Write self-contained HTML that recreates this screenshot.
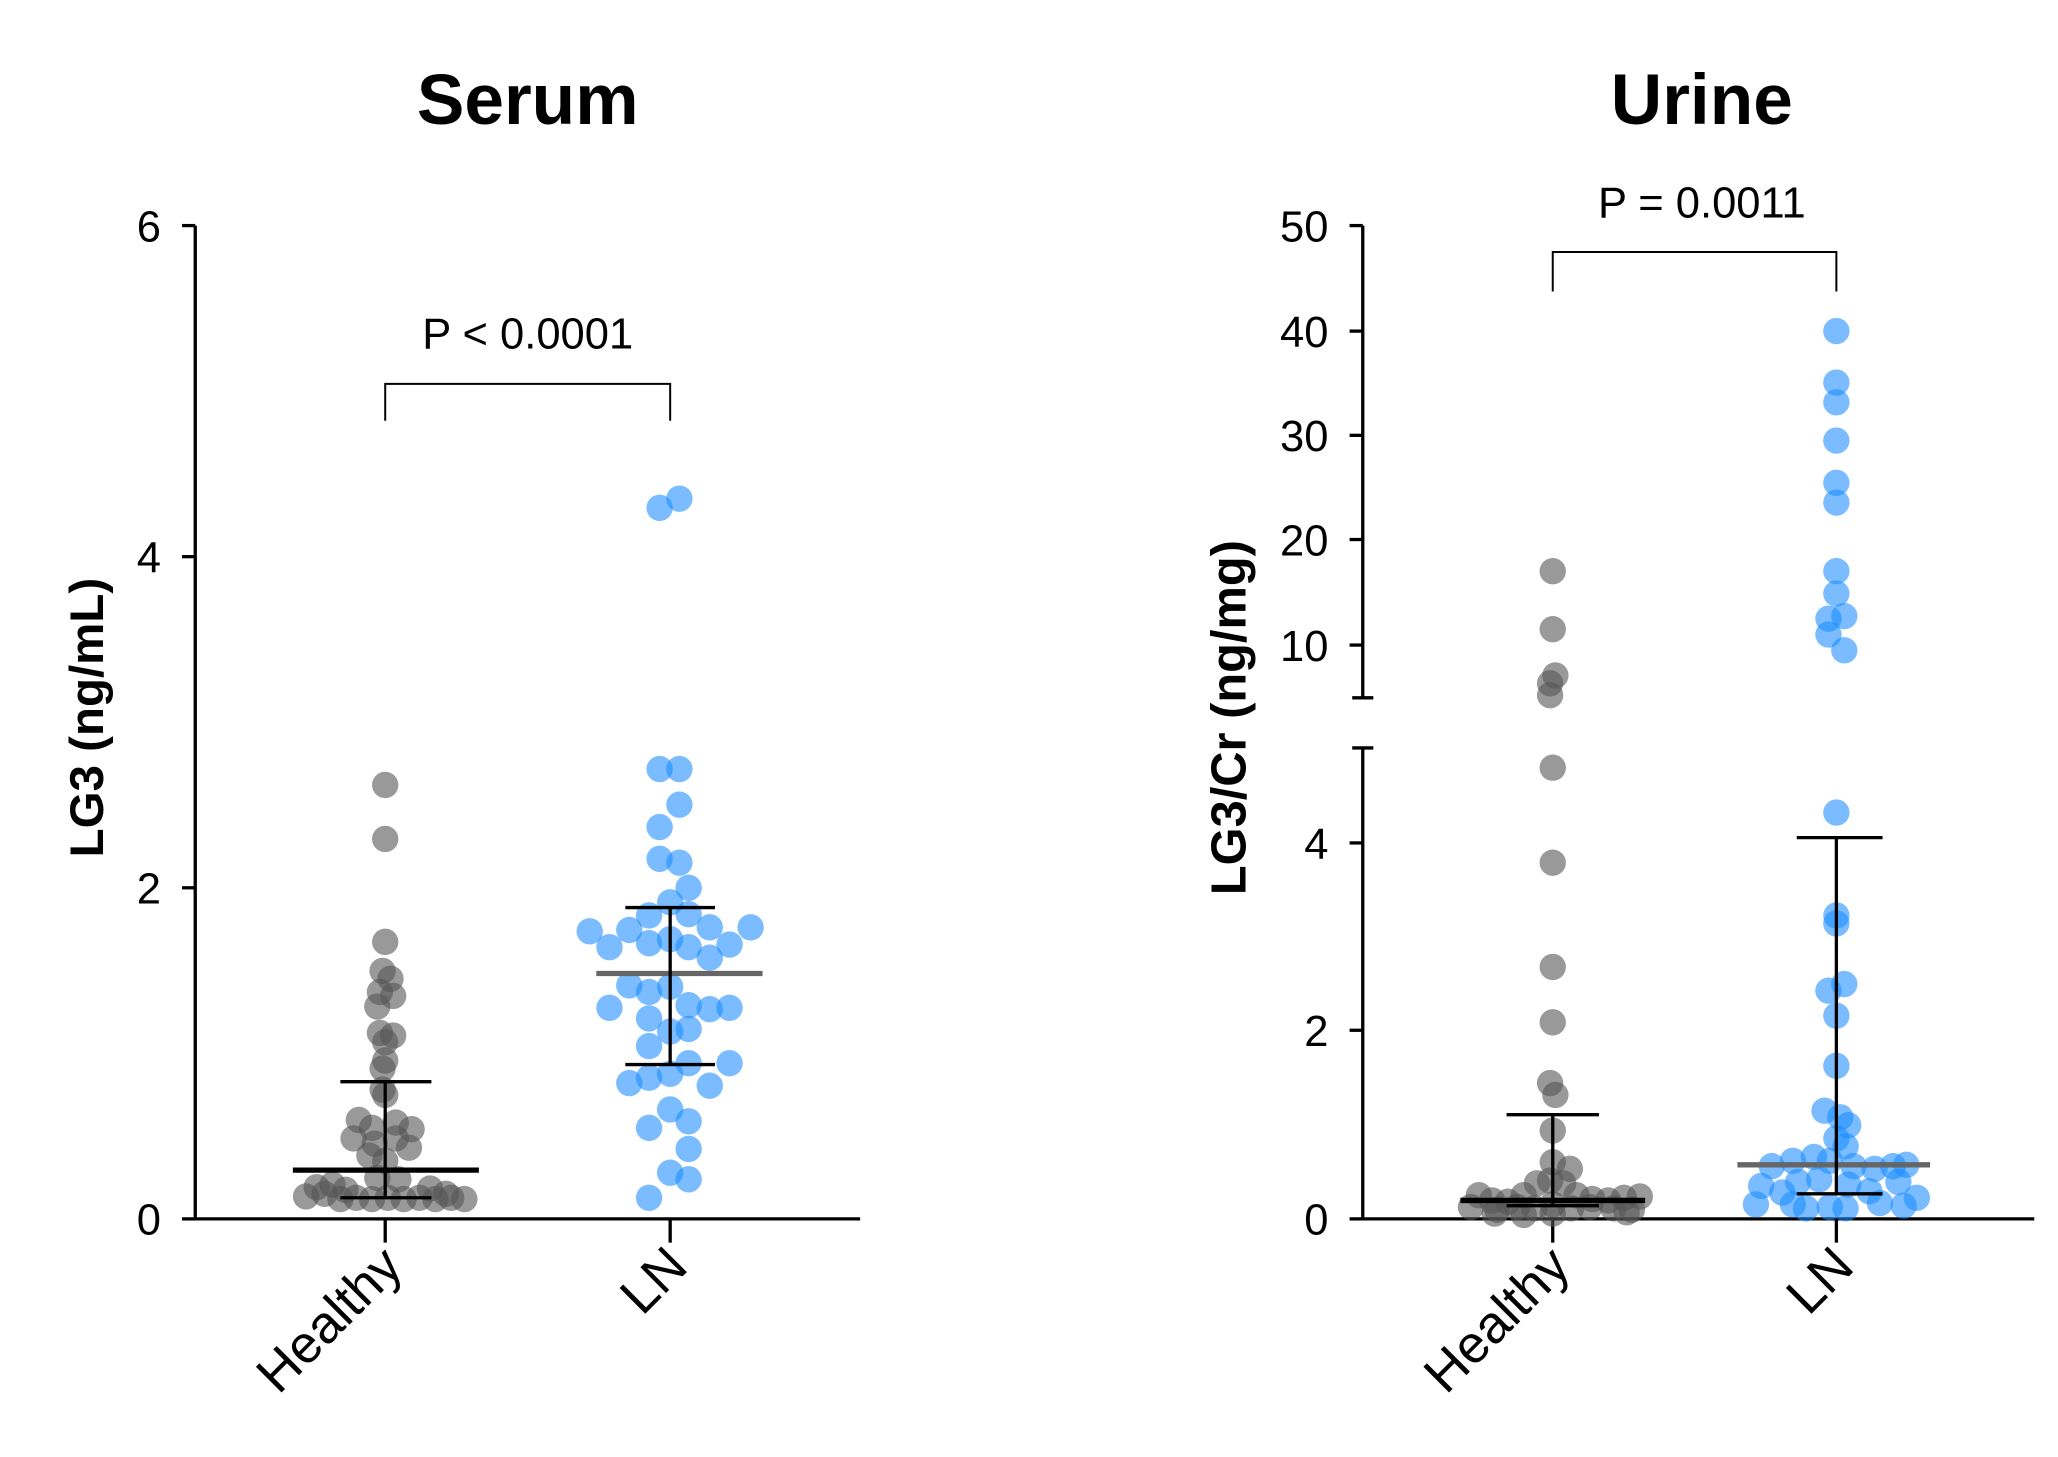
<!DOCTYPE html>
<html><head><meta charset="utf-8"><style>
html,body{margin:0;padding:0;background:#fff;}
svg{display:block;}
text{font-family:"Liberation Sans",sans-serif;fill:#000;}
.g circle{fill:#555;fill-opacity:0.6;}
.b circle{fill:#1a8cff;fill-opacity:0.58;}
</style></head><body>
<svg width="2058" height="1457" viewBox="0 0 1560 1104.5" preserveAspectRatio="none" xmlns="http://www.w3.org/2000/svg">
<text x="400" y="94" font-size="54" font-weight="bold" text-anchor="middle">Serum</text>

<g stroke="#000" stroke-width="2.5" fill="none">
<line x1="148" y1="171" x2="148" y2="925"/>
<line x1="147" y1="924" x2="652" y2="924"/>
<line x1="138" y1="171" x2="148" y2="171"/>
<line x1="138" y1="422" x2="148" y2="422"/>
<line x1="138" y1="673" x2="148" y2="673"/>
<line x1="138" y1="924" x2="148" y2="924"/>
<line x1="292" y1="924" x2="292" y2="942"/>
<line x1="508" y1="924" x2="508" y2="942"/>
</g>
<g font-size="33" text-anchor="end">
<text x="122" y="183">6</text><text x="122" y="434">4</text><text x="122" y="685">2</text><text x="122" y="936">0</text>
</g>
<text transform="translate(78,544) rotate(-90)" font-size="36" font-weight="bold" text-anchor="middle">LG3 (ng/mL)</text>
<text transform="translate(307,962) rotate(-45)" font-size="40" text-anchor="end">Healthy</text>
<text transform="translate(523,962) rotate(-45)" font-size="40" text-anchor="end">LN</text>
<text x="400" y="264" font-size="33" text-anchor="middle">P &lt; 0.0001</text>
<path d="M292 319 V291 H508 V319" stroke="#000" stroke-width="1.5" fill="none"/>

<g class="g">
<circle cx="292" cy="595" r="10"/><circle cx="292" cy="636" r="10"/><circle cx="292" cy="714" r="10"/>
<circle cx="290" cy="736" r="10"/><circle cx="296" cy="742" r="10"/><circle cx="288" cy="752" r="10"/><circle cx="298" cy="755" r="10"/>
<circle cx="286" cy="763" r="10"/><circle cx="288" cy="783" r="10"/><circle cx="298" cy="785" r="10"/><circle cx="292" cy="790" r="10"/>
<circle cx="292" cy="804" r="10"/><circle cx="290" cy="810" r="10"/><circle cx="290" cy="826" r="10"/><circle cx="292" cy="830" r="10"/>
<circle cx="272" cy="849" r="10"/><circle cx="300" cy="851" r="10"/><circle cx="282" cy="855" r="10"/><circle cx="312" cy="856" r="10"/>
<circle cx="268" cy="863" r="10"/><circle cx="284" cy="867" r="10"/><circle cx="300" cy="863" r="10"/><circle cx="310" cy="870" r="10"/>
<circle cx="280" cy="876" r="10"/><circle cx="292" cy="880" r="10"/><circle cx="286" cy="893" r="10"/><circle cx="302" cy="894" r="10"/>
<circle cx="232" cy="907" r="10"/><circle cx="246" cy="905" r="10"/><circle cx="258" cy="909" r="10"/><circle cx="270" cy="908" r="10"/>
<circle cx="282" cy="909" r="10"/><circle cx="294" cy="908" r="10"/><circle cx="306" cy="909" r="10"/><circle cx="318" cy="908" r="10"/>
<circle cx="330" cy="909" r="10"/><circle cx="342" cy="908" r="10"/><circle cx="352" cy="909" r="10"/><circle cx="240" cy="900" r="10"/>
<circle cx="262" cy="902" r="10"/><circle cx="326" cy="901" r="10"/><circle cx="338" cy="905" r="10"/><circle cx="252" cy="898" r="10"/>
</g>
<g stroke="#000" fill="none">
<line x1="222" y1="887" x2="363" y2="887" stroke-width="4"/>
<line x1="292" y1="820" x2="292" y2="908" stroke-width="2.5"/>
<line x1="258" y1="820" x2="327" y2="820" stroke-width="2.5"/>
<line x1="258" y1="908" x2="327" y2="908" stroke-width="2.5"/>
</g>

<g class="b">
<circle cx="500" cy="385" r="10"/><circle cx="515" cy="378" r="10"/>
<circle cx="500" cy="583" r="10"/><circle cx="515" cy="583" r="10"/><circle cx="515" cy="610" r="10"/><circle cx="500" cy="627" r="10"/>
<circle cx="500" cy="651" r="10"/><circle cx="515" cy="654" r="10"/><circle cx="522" cy="673" r="10"/><circle cx="508" cy="684" r="10"/>
<circle cx="447" cy="706" r="10"/><circle cx="477" cy="705" r="10"/><circle cx="492" cy="694" r="10"/><circle cx="522" cy="693" r="10"/>
<circle cx="538" cy="703" r="10"/><circle cx="569" cy="703" r="10"/><circle cx="462" cy="718" r="10"/><circle cx="492" cy="715" r="10"/>
<circle cx="508" cy="712" r="10"/><circle cx="553" cy="716" r="10"/><circle cx="522" cy="718" r="10"/><circle cx="538" cy="726" r="10"/>
<circle cx="477" cy="747" r="10"/><circle cx="492" cy="752" r="10"/><circle cx="508" cy="748" r="10"/><circle cx="462" cy="764" r="10"/>
<circle cx="522" cy="762" r="10"/><circle cx="538" cy="765" r="10"/><circle cx="553" cy="764" r="10"/><circle cx="492" cy="772" r="10"/>
<circle cx="508" cy="782" r="10"/><circle cx="522" cy="780" r="10"/><circle cx="492" cy="793" r="10"/><circle cx="522" cy="806" r="10"/>
<circle cx="553" cy="806" r="10"/><circle cx="477" cy="821" r="10"/><circle cx="492" cy="817" r="10"/><circle cx="508" cy="814" r="10"/>
<circle cx="538" cy="823" r="10"/><circle cx="508" cy="841" r="10"/><circle cx="522" cy="850" r="10"/><circle cx="492" cy="855" r="10"/>
<circle cx="522" cy="871" r="10"/><circle cx="508" cy="889" r="10"/><circle cx="522" cy="894" r="10"/><circle cx="492" cy="908" r="10"/>
</g>
<g stroke="#000" fill="none">
<line x1="452" y1="738" x2="578" y2="738" stroke="#666" stroke-width="4"/>
<line x1="508" y1="688" x2="508" y2="807" stroke-width="2.5"/>
<line x1="474" y1="688" x2="542" y2="688" stroke-width="2.5"/>
<line x1="474" y1="807" x2="542" y2="807" stroke-width="2.5"/>
</g>

<g transform="translate(-5,0)">
<text x="1295" y="94" font-size="54" font-weight="bold" text-anchor="middle">Urine</text>
<g stroke="#000" stroke-width="2.5" fill="none">
<line x1="1038" y1="171" x2="1038" y2="529"/>
<line x1="1038" y1="567" x2="1038" y2="925"/>
<line x1="1037" y1="924" x2="1547" y2="924"/>
<line x1="1028" y1="171" x2="1038" y2="171"/>
<line x1="1028" y1="251" x2="1038" y2="251"/>
<line x1="1028" y1="330" x2="1038" y2="330"/>
<line x1="1028" y1="409" x2="1038" y2="409"/>
<line x1="1028" y1="489" x2="1038" y2="489"/>
<line x1="1030" y1="529" x2="1046" y2="529"/>
<line x1="1030" y1="567" x2="1046" y2="567"/>
<line x1="1028" y1="639" x2="1038" y2="639"/>
<line x1="1028" y1="781" x2="1038" y2="781"/>
<line x1="1028" y1="924" x2="1038" y2="924"/>
<line x1="1182" y1="924" x2="1182" y2="942"/>
<line x1="1397" y1="924" x2="1397" y2="942"/>
</g>
<g font-size="33" text-anchor="end">
<text x="1012" y="183">50</text><text x="1012" y="263">40</text><text x="1012" y="342">30</text><text x="1012" y="421">20</text><text x="1012" y="501">10</text>
<text x="1012" y="651">4</text><text x="1012" y="793">2</text><text x="1012" y="936">0</text>
</g>
<text transform="translate(949,544) rotate(-90)" font-size="37" font-weight="bold" text-anchor="middle">LG3/Cr (ng/mg)</text>
<text transform="translate(1197,962) rotate(-45)" font-size="40" text-anchor="end">Healthy</text>
<text transform="translate(1412,962) rotate(-45)" font-size="40" text-anchor="end">LN</text>
<text x="1295" y="165" font-size="33" text-anchor="middle">P = 0.0011</text>
<path d="M1182 221 V191 H1397 V221" stroke="#000" stroke-width="1.5" fill="none"/>

<g class="g">
<circle cx="1182" cy="433" r="10"/><circle cx="1182" cy="477" r="10"/><circle cx="1184" cy="512" r="10"/><circle cx="1180" cy="518" r="10"/><circle cx="1180" cy="527" r="10"/>
<circle cx="1182" cy="582" r="10"/><circle cx="1182" cy="654" r="10"/><circle cx="1182" cy="733" r="10"/><circle cx="1182" cy="775" r="10"/>
<circle cx="1180" cy="821" r="10"/><circle cx="1184" cy="830" r="10"/><circle cx="1182" cy="857" r="10"/>
<circle cx="1182" cy="881" r="10"/><circle cx="1195" cy="886" r="10"/><circle cx="1170" cy="897" r="10"/><circle cx="1180" cy="895" r="10"/><circle cx="1190" cy="897" r="10"/>
<circle cx="1126" cy="906" r="10"/><circle cx="1136" cy="910" r="10"/><circle cx="1148" cy="911" r="10"/><circle cx="1160" cy="906" r="10"/>
<circle cx="1200" cy="906" r="10"/><circle cx="1212" cy="909" r="10"/><circle cx="1224" cy="910" r="10"/><circle cx="1236" cy="908" r="10"/><circle cx="1248" cy="907" r="10"/>
<circle cx="1120" cy="915" r="10"/><circle cx="1140" cy="917" r="10"/><circle cx="1155" cy="915" r="10"/><circle cx="1168" cy="916" r="10"/><circle cx="1182" cy="913" r="10"/>
<circle cx="1196" cy="916" r="10"/><circle cx="1210" cy="915" r="10"/><circle cx="1228" cy="916" r="10"/><circle cx="1242" cy="917" r="10"/>
<circle cx="1138" cy="920" r="10"/><circle cx="1160" cy="921" r="10"/><circle cx="1182" cy="920" r="10"/><circle cx="1238" cy="919" r="10"/>
</g>
<g stroke="#000" fill="none">
<line x1="1112" y1="910" x2="1252" y2="910" stroke-width="4"/>
<line x1="1182" y1="845" x2="1182" y2="914" stroke-width="2.5"/>
<line x1="1147" y1="845" x2="1217" y2="845" stroke-width="2.5"/>
<line x1="1147" y1="914" x2="1217" y2="914" stroke-width="2.5"/>
</g>

<g class="b">
<circle cx="1397" cy="251" r="10"/><circle cx="1397" cy="290" r="10"/><circle cx="1397" cy="305" r="10"/><circle cx="1397" cy="334" r="10"/>
<circle cx="1397" cy="366" r="10"/><circle cx="1397" cy="381" r="10"/><circle cx="1397" cy="433" r="10"/><circle cx="1397" cy="450" r="10"/>
<circle cx="1391" cy="469" r="10"/><circle cx="1403" cy="467" r="10"/><circle cx="1391" cy="481" r="10"/><circle cx="1403" cy="493" r="10"/>
<circle cx="1397" cy="616" r="10"/><circle cx="1397" cy="694" r="10"/><circle cx="1397" cy="700" r="10"/><circle cx="1403" cy="746" r="10"/><circle cx="1391" cy="751" r="10"/>
<circle cx="1397" cy="770" r="10"/><circle cx="1397" cy="808" r="10"/><circle cx="1388" cy="842" r="10"/><circle cx="1400" cy="847" r="10"/><circle cx="1406" cy="853" r="10"/>
<circle cx="1397" cy="863" r="10"/><circle cx="1404" cy="869" r="10"/>
<circle cx="1348" cy="884" r="10"/><circle cx="1364" cy="880" r="10"/><circle cx="1380" cy="877" r="10"/><circle cx="1392" cy="880" r="10"/><circle cx="1410" cy="884" r="10"/>
<circle cx="1426" cy="886" r="10"/><circle cx="1440" cy="884" r="10"/><circle cx="1450" cy="883" r="10"/>
<circle cx="1340" cy="899" r="10"/><circle cx="1356" cy="904" r="10"/><circle cx="1368" cy="896" r="10"/><circle cx="1384" cy="894" r="10"/>
<circle cx="1406" cy="898" r="10"/><circle cx="1422" cy="903" r="10"/><circle cx="1444" cy="896" r="10"/><circle cx="1458" cy="908" r="10"/>
<circle cx="1336" cy="913" r="10"/><circle cx="1364" cy="913" r="10"/><circle cx="1374" cy="916" r="10"/><circle cx="1392" cy="915" r="10"/><circle cx="1404" cy="916" r="10"/>
<circle cx="1430" cy="912" r="10"/><circle cx="1448" cy="914" r="10"/>
</g>
<g stroke="#000" fill="none">
<line x1="1322" y1="883" x2="1468" y2="883" stroke="#666" stroke-width="4"/>
<line x1="1397" y1="635" x2="1397" y2="905" stroke-width="2.5"/>
<line x1="1367" y1="635" x2="1432" y2="635" stroke-width="2.5"/>
<line x1="1367" y1="905" x2="1432" y2="905" stroke-width="2.5"/>
</g>
</g>
</svg>
</body></html>
